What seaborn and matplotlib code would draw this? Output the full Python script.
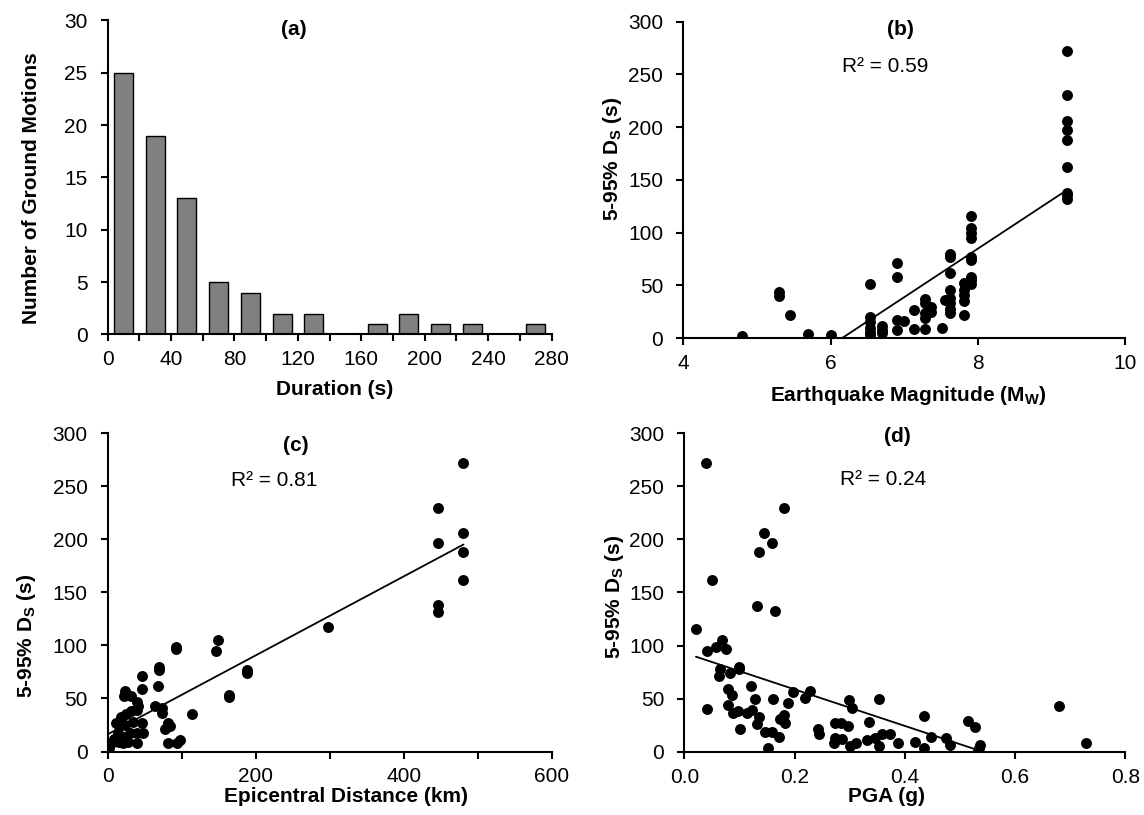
import numpy as np
import matplotlib
matplotlib.use("Agg")
import matplotlib.pyplot as plt
import seaborn as sns
from matplotlib.ticker import FormatStrFormatter

# ---------------- data ----------------
# (a) histogram of 5-95% significant duration
bin_centers = [10, 30, 50, 70, 90, 110, 130, 150, 170, 190, 210, 230, 250, 270]
bin_counts = [25, 19, 13, 5, 4, 2, 2, 0, 1, 2, 1, 1, 0, 1]

# (b) magnitude vs duration
mag_b = [4.8, 5.3, 5.3, 5.45, 5.7, 6.0,
         6.53, 6.53, 6.53, 6.53, 6.53, 6.53,
         6.7, 6.7, 6.7,
         6.9, 6.9, 6.9, 6.9, 7.0,
         7.13, 7.13,
         7.28, 7.28, 7.28, 7.28, 7.28,
         7.37, 7.37,
         7.51,
         7.55, 7.62, 7.62, 7.62, 7.62, 7.62, 7.62, 7.62, 7.62,
         7.81, 7.81, 7.81, 7.81, 7.81,
         7.91, 7.91, 7.91, 7.91, 7.91, 7.91, 7.91, 7.91, 7.91,
         9.21, 9.21, 9.21, 9.21, 9.21, 9.21, 9.21, 9.21, 9.21]
dur_b = [2, 44, 40, 22, 4, 3,
         51, 20, 15, 10, 6, 3,
         12, 8, 5,
         71, 58, 17, 8, 16,
         27, 9,
         37, 33, 24, 19, 9,
         30, 25,
         10,
         36, 80, 77, 62, 46, 38, 33, 28, 24,
         52, 46, 41, 35, 22,
         116, 104, 100, 95, 77, 74, 58, 55, 51,
         272, 230, 206, 197, 188, 162, 138, 136, 132]

# (c) epicentral distance vs duration
dist_c = [481, 446, 481, 446, 481, 481, 446, 446, 298, 149, 147, 93, 93, 189, 189,
          164, 164, 70, 70, 46, 68, 46, 23, 114, 64, 73, 73, 82, 84, 77, 82, 94, 98,
          22, 32, 39, 41, 39, 32, 25, 18, 11, 16, 23, 34, 46, 48, 39, 30, 21, 14, 9,
          7, 16, 27, 39, 2, 1, 21]
dur_c = [272, 230, 206, 197, 188, 162, 138, 132, 117, 105, 95, 99, 97, 77, 74,
         53, 51, 80, 77, 71, 62, 59, 57, 35, 43, 41, 36, 27, 24, 21, 8, 8, 11,
         52, 52, 47, 43, 39, 38, 35, 33, 27, 24, 25, 28, 27, 17, 17, 17, 14, 17, 12,
         9, 9, 9, 8, 3, 1, 8]

# (d) PGA vs duration
pga_d = [0.040, 0.180, 0.144, 0.159, 0.135, 0.051, 0.131, 0.165, 0.021,
         0.068, 0.058, 0.076, 0.041, 0.099, 0.099, 0.064, 0.063, 0.082,
         0.121, 0.080, 0.086, 0.198, 0.228, 0.219, 0.129, 0.160, 0.298, 0.353,
         0.188, 0.080, 0.042, 0.305, 0.088, 0.097, 0.114, 0.122,
         0.180, 0.174, 0.135, 0.183, 0.131, 0.101, 0.147, 0.159, 0.172, 0.151,
         0.434, 0.515, 0.528, 0.679, 0.729, 0.335, 0.243, 0.245,
         0.273, 0.285, 0.296, 0.273, 0.286, 0.272, 0.300, 0.312, 0.331, 0.346,
         0.359, 0.373, 0.354, 0.388, 0.418, 0.434, 0.447, 0.474, 0.482,
         0.532, 0.537, 0.535]
dur_d = [272, 230, 206, 197, 188, 162, 137, 133, 116,
         105, 99, 97, 95, 80, 78, 78, 71, 74,
         62, 59, 53, 56, 57, 51, 50, 50, 49, 50,
         46, 44, 40, 41, 36, 38, 36, 39,
         35, 31, 33, 27, 26, 21, 19, 19, 14, 3,
         34, 29, 23, 43, 8, 28, 21, 17,
         27, 27, 24, 13, 12, 8, 5, 8, 11, 13,
         17, 17, 5, 8, 9, 3, 14, 13, 6,
         0.5, 6, 3]

r2_labels = ["R² = 0.59", "R² = 0.81", "R² = 0.24"]

# ---------------- style ----------------
sns.set_theme(style="ticks")
plt.rcParams['font.family'] = ['Liberation Sans', 'DejaVu Sans']
plt.rcParams['mathtext.fontset'] = 'custom'
plt.rcParams['mathtext.rm'] = 'Liberation Sans'
plt.rcParams['mathtext.it'] = 'Liberation Sans:italic'
plt.rcParams['mathtext.bf'] = 'Liberation Sans:bold'

FS = 15

fig = plt.figure(figsize=(11.44, 8.15), dpi=100)
ax_a = fig.add_axes([0.0941, 0.5896, 0.388, 0.3853])
ax_b = fig.add_axes([0.5973, 0.5850, 0.3861, 0.3885])
ax_c = fig.add_axes([0.0941, 0.0779, 0.388, 0.3904])
ax_d = fig.add_axes([0.5982, 0.0777, 0.3855, 0.3907])


def style(ax):
    sns.despine(ax=ax)
    for s in ("left", "bottom"):
        ax.spines[s].set_color("black")
        ax.spines[s].set_linewidth(1.5)
    ax.tick_params(axis="both", which="both", direction="out", length=5,
                   width=1.5, color="black", labelsize=FS, labelcolor="black")
    ax.tick_params(axis="y", pad=9.5)
    ax.tick_params(axis="x", pad=6.5)
    ax.set_facecolor("white")


# (a)
sns.barplot(x=bin_centers, y=bin_counts, native_scale=True, width=0.6,
            color="#808080", edgecolor="black", linewidth=1.0, saturation=1,
            errorbar=None, ax=ax_a)
ax_a.set_xlim(0, 280)
ax_a.set_ylim(0, 30)
ax_a.set_xticks(np.arange(0, 281, 40))
ax_a.set_xticks(np.arange(20, 281, 40), minor=True)
ax_a.set_yticks(np.arange(0, 31, 5))
style(ax_a)
ax_a.set_xlabel("Duration (s)", fontsize=FS, fontweight="bold", color="black")
ax_a.set_ylabel("Number of Ground Motions", fontsize=FS, fontweight="bold", color="black")
ax_a.xaxis.set_label_coords(0.512, -0.146)
ax_a.yaxis.set_label_coords(-0.150, 0.467)
ax_a.text(0.42, 0.972, "(a)", transform=ax_a.transAxes, ha="center", va="center",
          fontsize=FS, fontweight="bold", color="black")

ylab = r"5-95% D$_\mathbf{S}$ (s)"

scatter_sets = [
    (ax_b, mag_b, dur_b, "Earthquake Magnitude (M$_\\mathbf{W}$)", "(b)", r2_labels[0]),
    (ax_c, dist_c, dur_c, "Epicentral Distance (km)", "(c)", r2_labels[1]),
    (ax_d, pga_d, dur_d, "PGA (g)", "(d)", r2_labels[2]),
]
for ax, xv, yv, xl, tag, r2 in scatter_sets:
    sns.scatterplot(x=xv, y=yv, color="black", s=62, linewidth=0, ax=ax, zorder=3)
    sns.regplot(x=xv, y=yv, scatter=False, ci=None, ax=ax,
                line_kws=dict(color="black", lw=1.3))
    ax.set_ylim(0, 300)
    ax.set_yticks(np.arange(0, 301, 50))
    style(ax)
    ax.set_xlabel(xl, fontsize=FS, fontweight="bold", color="black")
    ax.set_ylabel(ylab, fontsize=FS, fontweight="bold", color="black")

ax_b.set_xlim(4, 10)
ax_b.set_xticks([4, 6, 8, 10])
ax_c.set_xlim(0, 600)
ax_c.set_xticks([0, 200, 400, 600])
ax_c.set_xticks([100, 300, 500], minor=True)
ax_d.set_xlim(0, 0.8)
ax_d.set_xticks([0.0, 0.2, 0.4, 0.6, 0.8])
ax_d.xaxis.set_major_formatter(FormatStrFormatter("%.1f"))

ax_b.xaxis.set_label_coords(0.51, -0.146)
ax_b.yaxis.set_label_coords(-0.134, 0.566)
ax_c.xaxis.set_label_coords(0.537, -0.111)
ax_c.yaxis.set_label_coords(-0.158, 0.364)
ax_d.xaxis.set_label_coords(0.459, -0.112)
ax_d.yaxis.set_label_coords(-0.132, 0.487)

ax_b.text(0.492, 0.976, "(b)", transform=ax_b.transAxes, ha="center", va="center",
          fontsize=FS, fontweight="bold", color="black")
ax_b.text(0.457, 0.858, r2_labels[0], transform=ax_b.transAxes, ha="center", va="center",
          fontsize=FS, color="black")
ax_c.text(0.423, 0.963, "(c)", transform=ax_c.transAxes, ha="center", va="center",
          fontsize=FS, fontweight="bold", color="black")
ax_c.text(0.375, 0.853, r2_labels[1], transform=ax_c.transAxes, ha="center", va="center",
          fontsize=FS, color="black")
ax_d.text(0.482, 0.99, "(d)", transform=ax_d.transAxes, ha="center", va="center",
          fontsize=FS, fontweight="bold", color="black")
ax_d.text(0.451, 0.855, r2_labels[2], transform=ax_d.transAxes, ha="center", va="center",
          fontsize=FS, color="black")

fig.savefig("out.png", dpi=100, facecolor="white")
